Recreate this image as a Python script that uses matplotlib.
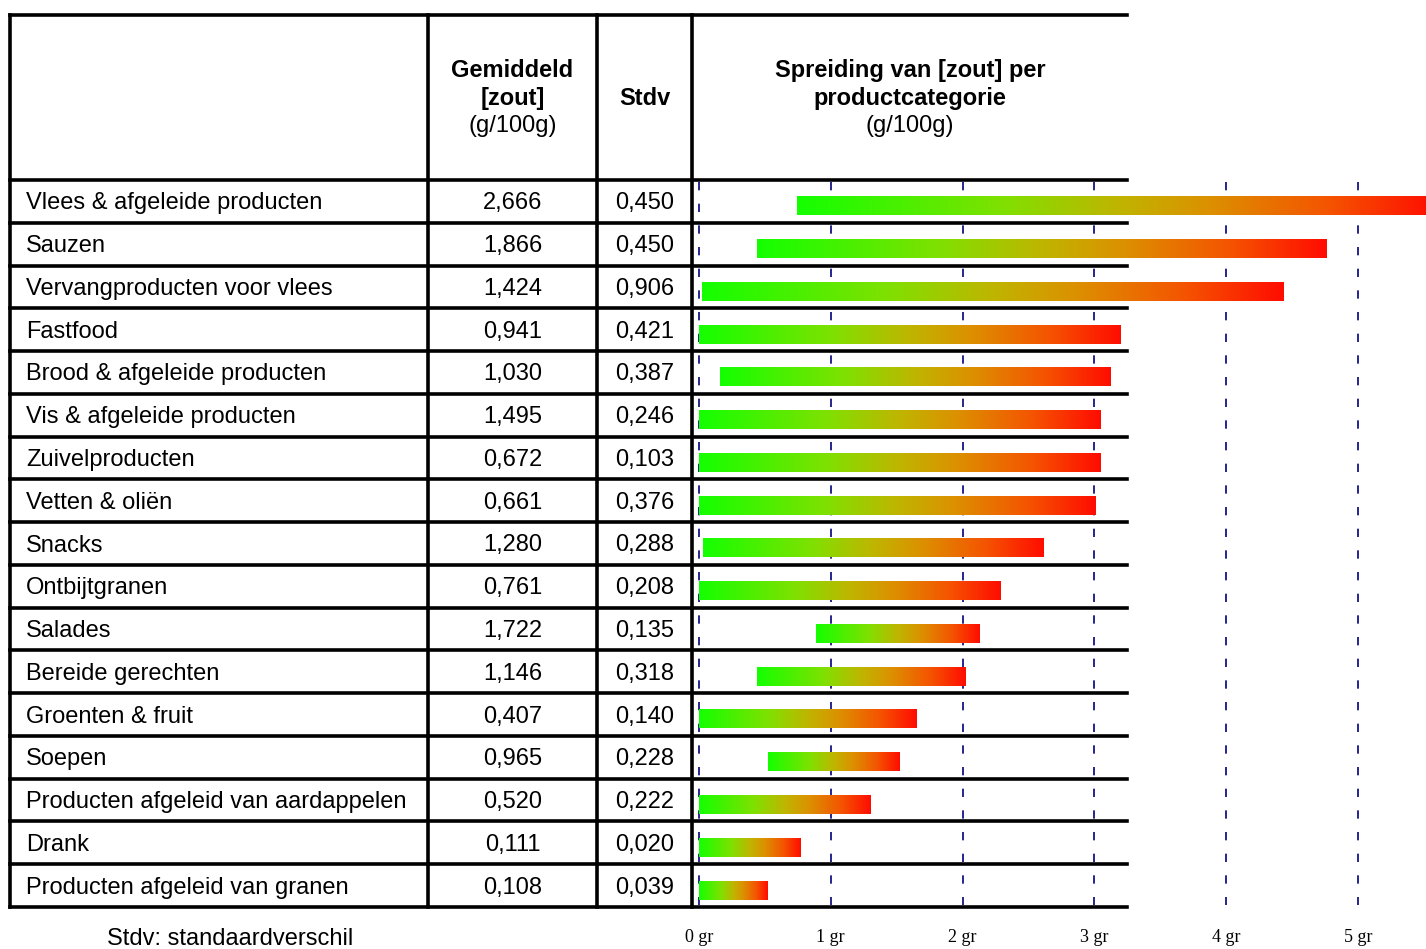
import numpy as np
import matplotlib
matplotlib.use("Agg")
import matplotlib.pyplot as plt
from matplotlib.colors import LinearSegmentedColormap

categories = [
    "Vlees & afgeleide producten", "Sauzen", "Vervangproducten voor vlees",
    "Fastfood", "Brood & afgeleide producten", "Vis & afgeleide producten",
    "Zuivelproducten", "Vetten & oliën", "Snacks", "Ontbijtgranen", "Salades",
    "Bereide gerechten", "Groenten & fruit", "Soepen",
    "Producten afgeleid van aardappelen", "Drank", "Producten afgeleid van granen",
]
means = [2.666, 1.866, 1.424, 0.941, 1.030, 1.495, 0.672, 0.661, 1.280, 0.761,
         1.722, 1.146, 0.407, 0.965, 0.520, 0.111, 0.108]
stdv = [0.450, 0.450, 0.906, 0.421, 0.387, 0.246, 0.103, 0.376, 0.288, 0.208,
        0.135, 0.318, 0.140, 0.228, 0.222, 0.020, 0.039]
range_min = [0.74, 0.44, 0.02, 0.0, 0.16, 0.0, 0.0, 0.0, 0.03, 0.0,
             0.89, 0.44, 0.0, 0.52, 0.0, 0.0, 0.0]
range_max = [5.60, 4.76, 4.43, 3.20, 3.12, 3.05, 3.05, 3.01, 2.61, 2.29,
             2.13, 2.02, 1.65, 1.52, 1.30, 0.77, 0.52]
tick_values = [0, 1, 2, 3, 4, 5]

W, H = 1426, 949
FONT = "Liberation Sans"
FS = 17

fig = plt.figure(figsize=(W / 100, H / 100), dpi=100)

# table layer in pixel coordinates
tab = fig.add_axes([0, 0, 1, 1], zorder=2)
tab.set_xlim(0, W)
tab.set_ylim(H, 0)
tab.axis("off")
tab.patch.set_alpha(0)

top, head_bot, bot = 15, 180, 907
left, c1, c2, c3, right = 10, 428, 597, 692, 1127
n = len(categories)
row_h = (bot - head_bot) / n

lw = 2.6
tab.plot([left, right], [top, top], color="black", lw=lw, solid_capstyle="projecting")
for i in range(n + 1):
    y = head_bot + i * row_h
    tab.plot([left, right], [y, y], color="black", lw=lw, solid_capstyle="projecting")
for x in [left, c1, c2, c3]:
    tab.plot([x, x], [top, bot], color="black", lw=lw, solid_capstyle="projecting")

# header
mx, sx = (c1 + c2) / 2, (c2 + c3) / 2
hx = 910
tab.text(mx, 70, "Gemiddeld", ha="center", va="center", fontsize=FS, fontweight="bold", family=FONT)
tab.text(mx, 98, "[zout]", ha="center", va="center", fontsize=FS, fontweight="bold", family=FONT)
tab.text(mx, 126, "(g/100g)", ha="center", va="center", fontsize=FS, family=FONT)
tab.text(sx, 98, "Stdv", ha="center", va="center", fontsize=FS, fontweight="bold", family=FONT)
tab.text(hx, 70, "Spreiding van [zout] per", ha="center", va="center", fontsize=FS, fontweight="bold", family=FONT)
tab.text(hx, 98, "productcategorie", ha="center", va="center", fontsize=FS, fontweight="bold", family=FONT)
tab.text(hx, 126, "(g/100g)", ha="center", va="center", fontsize=FS, family=FONT)

for i, name in enumerate(categories):
    yc = head_bot + (i + 0.5) * row_h + 2
    tab.text(26, yc, name, ha="left", va="center", fontsize=FS, family=FONT)
    tab.text(mx, yc, f"{means[i]:.3f}".replace(".", ","), ha="center", va="center", fontsize=FS, family=FONT)
    tab.text(sx, yc, f"{stdv[i]:.3f}".replace(".", ","), ha="center", va="center", fontsize=FS, family=FONT)

tab.text(230, 939, "Stdv: standaardverschil", ha="center", va="center", fontsize=FS, family=FONT)

# chart layer in grams
px_per_g = (1358 - 699) / 5
x0 = (c3 - 699) / px_per_g
x1 = (W - 699) / px_per_g
ax = fig.add_axes([c3 / W, (H - bot) / H, (W - c3) / W, (bot - head_bot) / H], zorder=1)
for s in ax.spines.values():
    s.set_visible(False)
ax.set_yticks([])
ax.patch.set_alpha(0)

for t in tick_values:
    ax.plot([t, t], [0.05, n - 0.05], color="#00007a", lw=1.2, ls=(0, (5, 8)))

# green -> yellow-olive -> orange -> red, as in the reference bars
cmap = LinearSegmentedColormap.from_list("zout", [
    (0.0, (0.08, 1.0, 0.0)),
    (0.32, (0.50, 0.88, 0.0)),
    (0.50, (0.75, 0.71, 0.0)),
    (0.64, (0.86, 0.57, 0.0)),
    (0.83, (0.96, 0.33, 0.0)),
    (1.0, (1.0, 0.05, 0.0)),
])
grad = np.linspace(0, 1, 256)[None, :]
bar_h = 0.43
for i in range(n):
    yc = i + 0.61
    ax.imshow(grad, cmap=cmap, extent=(range_min[i], range_max[i], yc + bar_h / 2, yc - bar_h / 2),
              aspect="auto", interpolation="bilinear", zorder=3)
ax.set_xlim(x0, x1)
ax.set_ylim(n, 0)

ax.set_xticks(tick_values)
ax.set_xticklabels([f"{t} gr" for t in tick_values], family="Liberation Serif", fontsize=13)
ax.tick_params(axis="x", length=0, pad=16)

fig.savefig("out.png", dpi=100)
